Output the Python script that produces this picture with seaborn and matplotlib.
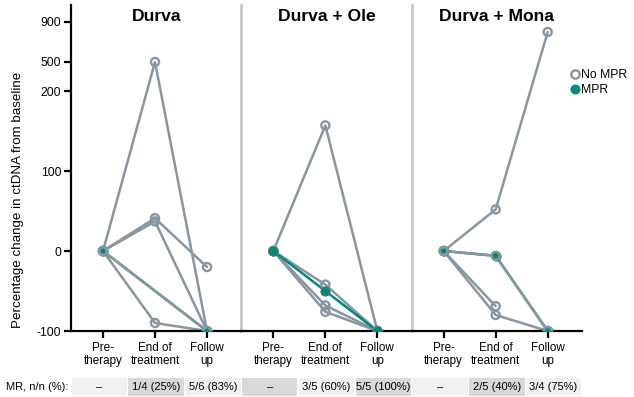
import numpy as np
import pandas as pd
import matplotlib
matplotlib.use("Agg")
import matplotlib.pyplot as plt
from matplotlib import font_manager
from matplotlib.lines import Line2D
from matplotlib.patches import Rectangle
from matplotlib.ticker import FixedLocator, FixedFormatter, NullLocator
import seaborn as sns

# ---------------- data ----------------
panels = ["Durva", "Durva + Ole", "Durva + Mona"]
timepoints = ["Pre-\ntherapy", "End of\ntreatment", "Follow\nup"]

durva_values = [[0, 500, -100], [0, 41, -20], [0, 37, -100], [0, -90, -100],
                [0, np.nan, -100], [0, np.nan, -100]]
durva_status = ["No MPR", "No MPR", "No MPR", "No MPR", "MPR", "No MPR"]

ole_values = [[0, 157, -100], [0, -42, -100], [0, -50, -100], [0, -68, -100],
              [0, -76, -100]]
ole_status = ["No MPR", "No MPR", "MPR", "No MPR", "No MPR"]

mona_values = [[0, 52, 800], [0, -6, -100], [0, -6, -100], [0, -69, np.nan],
               [0, -80, -100]]
mona_status = ["No MPR", "MPR", "No MPR", "No MPR", "No MPR"]

mr_labels = [["–", "1/4 (25%)", "5/6 (83%)"],
             ["–", "3/5 (60%)", "5/5 (100%)"],
             ["–", "2/5 (40%)", "3/4 (75%)"]]

ytick_values = [-100, 0, 100, 200, 500, 900]
ytick_labels = ["-100", "0", "100", "200", "500", "900"]

# ---------------- style ----------------
GREY = "#8996a0"
TEAL = "#00897d"
LIGHT = "#f1f1f1"
DARK = "#d9d9d9"

sns.set_style("white")
names = {f.name for f in font_manager.fontManager.ttflist}
if "Liberation Sans Narrow" in names:
    FAMILY = ["Liberation Sans Narrow", "DejaVu Sans"]
    k = 1.0
else:
    FAMILY = ["Liberation Sans", "DejaVu Sans"]
    k = 0.84
plt.rcParams["font.family"] = FAMILY
plt.rcParams.update({
    "text.color": "black", "axes.labelcolor": "black",
    "xtick.color": "black", "ytick.color": "black",
    "xtick.bottom": True, "ytick.left": True,
})


def fwd(y):
    y = np.asarray(y, dtype=float)
    return np.where(y <= 200, y,
                    np.where(y <= 500, 200 + (y - 200) * 36.25 / 300,
                             236.25 + (y - 500) * 50 / 400))


def inv(t):
    t = np.asarray(t, dtype=float)
    return np.where(t <= 200, t,
                    np.where(t <= 236.25, 200 + (t - 200) * 300 / 36.25,
                             500 + (t - 236.25) * 400 / 50))


fig = plt.figure(figsize=(6.34, 3.97), dpi=100)
axes = fig.subplots(1, 3, sharey=True)
fig.subplots_adjust(left=71 / 634, right=582 / 634, top=1 - 5 / 397,
                    bottom=1 - 331 / 397, wspace=0)
axes[0].set_yscale("function", functions=(fwd, inv))

all_values = [durva_values, ole_values, mona_values]
all_status = [durva_status, ole_status, mona_status]
teal_on_top = [False, True, False]

for i, ax in enumerate(axes):
    rows = []
    for p, (vals, st) in enumerate(zip(all_values[i], all_status[i])):
        for t, v in enumerate(vals):
            rows.append({"patient": p, "time": t, "value": v, "status": st})
    df = pd.DataFrame(rows).dropna()

    hue_order = ["No MPR", "MPR"] if teal_on_top[i] else ["MPR", "No MPR"]
    sns.lineplot(data=df, x="time", y="value", hue="status", units="patient",
                 estimator=None, sort=False, hue_order=hue_order,
                 palette={"No MPR": GREY, "MPR": TEAL}, lw=1.8,
                 legend=False, ax=ax, zorder=2)

    def draw_mpr():
        d = df[df.status == "MPR"]
        sns.scatterplot(data=d, x="time", y="value", ax=ax, s=44, color=TEAL,
                        edgecolor="#4f705c", linewidth=0.7, zorder=3,
                        legend=False)

    def draw_no():
        d = df[df.status == "No MPR"]
        sns.scatterplot(data=d, x="time", y="value", ax=ax, s=34, color=GREY,
                        linewidth=1.7, zorder=3, legend=False)
        coll = ax.collections[-1]
        coll.set_facecolor("none")
        coll.set_edgecolor(GREY)

    if teal_on_top[i]:
        draw_no()
        draw_mpr()
    else:
        draw_mpr()
        draw_no()

    ax.set_xlim(-32 / 52, 2 + 34.3 / 52)
    ax.set_xticks(range(len(timepoints)))
    ax.set_xticklabels(timepoints, fontsize=10 * k, linespacing=1.1)
    ax.set_xlabel("")
    ax.set_ylabel("")
    ax.tick_params(axis="x", bottom=True, direction="out", length=5,
                   width=1.6, color="black", labelcolor="black", pad=3)

    for s in ["top", "right"]:
        ax.spines[s].set_visible(False)
    ax.spines["bottom"].set_color("black")
    ax.spines["bottom"].set_linewidth(1.6)
    if i == 0:
        ax.spines["left"].set_color("black")
        ax.spines["left"].set_linewidth(1.6)
    else:
        ax.spines["left"].set_color("#c6c6c6")
        ax.spines["left"].set_linewidth(2.0)

    ax.text(0.5, (331 - 21) / 326, panels[i], transform=ax.transAxes,
            ha="center", va="baseline", fontsize=15 * k, fontweight="bold",
            color="black")

    # MR row
    y0 = (331 - 396) / 326
    h = (396 - 378) / 326
    for j, lab in enumerate(mr_labels[i]):
        col = DARK if (i * 3 + j) % 2 == 1 else LIGHT
        ax.add_patch(Rectangle((j / 3 + 0.004, y0), 1 / 3 - 0.008, h,
                               transform=ax.transAxes, facecolor=col,
                               edgecolor="none", clip_on=False, zorder=1))
        ax.text(j / 3 + 1 / 6, y0 + h / 2, lab, transform=ax.transAxes,
                ha="center", va="center", fontsize=9.5 * k, color="black")

# y axis (shared) – set after all plotting
ax0 = axes[0]
ax0.set_ylim(-100, 1070)
ax0.yaxis.set_major_locator(FixedLocator(ytick_values))
ax0.yaxis.set_major_formatter(FixedFormatter(ytick_labels))
ax0.yaxis.set_minor_locator(NullLocator())
ax0.tick_params(axis="y", left=True, direction="out", length=5, width=1.6,
                color="black", labelcolor="black", pad=2, labelsize=10.5 * k)
for ax in axes[1:]:
    ax.tick_params(axis="y", left=False, labelleft=False)

fig.text(68 / 634, 1 - 387 / 397, "MR, n/n (%):", ha="right", va="center",
         fontsize=9.5 * k, color="black")
fig.text(18 / 634, 1 - 200 / 397, "Percentage change in ctDNA from baseline",
         rotation=90, ha="center", va="center", fontsize=11.5 * k,
         color="black")

handles = [
    Line2D([], [], marker="o", ls="", mfc="none", mec=GREY, mew=1.7, ms=6),
    Line2D([], [], marker="o", ls="", mfc=TEAL, mec=TEAL, mew=0.7, ms=6.5),
]
leg = fig.legend(handles, ["No MPR", "MPR"], loc="upper left",
                 bbox_to_anchor=(571 / 634, 1 - 69 / 397), frameon=False,
                 handlelength=0.6, handletextpad=0.25, borderaxespad=0,
                 borderpad=0, labelspacing=0.25, fontsize=10.5 * k)
for t in leg.get_texts():
    t.set_color("black")

fig.savefig("out.png", dpi=100)
